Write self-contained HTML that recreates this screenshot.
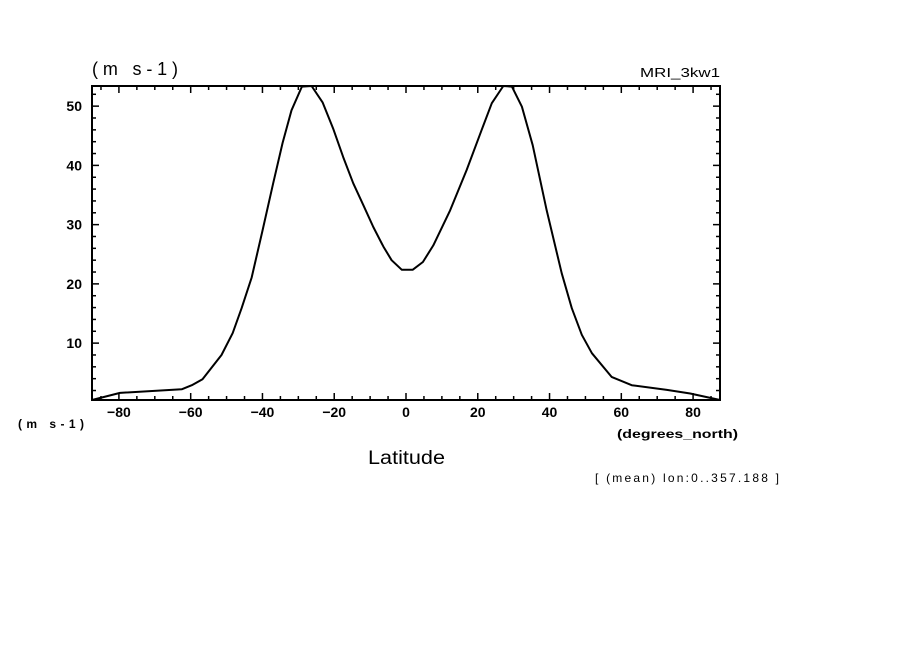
<!DOCTYPE html>
<html><head><meta charset="utf-8">
<style>
html,body{margin:0;padding:0;background:#fff;}
svg{display:block;font-family:"Liberation Sans",sans-serif;}
</style></head>
<body>
<svg id="chart" width="904" height="654" viewBox="0 0 904 654" xmlns="http://www.w3.org/2000/svg">
<text x="92" y="75" font-size="18" textLength="86" lengthAdjust="spacing">(m s-1)</text>
<text x="640" y="77" font-size="13" textLength="80" lengthAdjust="spacingAndGlyphs">MRI_3kw1</text>
<g id="axes"></g>
<text x="18" y="428" font-size="12" font-weight="bold" textLength="66" lengthAdjust="spacing">(m s-1)</text>
<text x="617" y="438" font-size="12" font-weight="bold" textLength="121" lengthAdjust="spacingAndGlyphs">(degrees_north)</text>
<text x="368" y="464" font-size="19" textLength="77" lengthAdjust="spacingAndGlyphs">Latitude</text>
<text x="595" y="482" font-size="12" textLength="184" lengthAdjust="spacing">[ (mean) lon:0..357.188 ]</text>
</svg>
<script>
const lats = [-87.5,-79.7,-62.5,-59.7,-56.7,-51.4,-48.3,-45.8,-43,-40,-37,-34.4,-31.9,-29,-26.3,-23.2,-20.3,-17.5,-14.7,-11.9,-9.1,-6.3,-4,-1.2,1.9,4.7,7.6,12.3,16.9,21.1,23.9,27.1,29.5,32.3,35.3,39.2,43.4,46.2,49,51.8,57.3,62.9,72.7,79.2,87.5];
const winds = [0.4,1.6,2.2,2.9,3.9,8,11.7,15.9,21.1,29,37,43.8,49.3,53.3,53.4,50.6,46.2,41.4,37,33.3,29.6,26.3,24,22.4,22.4,23.7,26.5,32.4,39.2,46,50.5,53.4,53.3,49.9,43.4,32.4,21.8,15.9,11.4,8.3,4.3,2.9,2.1,1.5,0.4];
const xTicks = [-80,-60,-40,-20,0,20,40,60,80];
const yTicks = [10,20,30,40,50];
const xMin=-87.5,xMax=87.5,yMin=0.4,yMax=53.4;
const L=92,R=720,T=86,B=400;
const sx=v=>L+(v-xMin)/(xMax-xMin)*(R-L);
const sy=v=>B-(v-yMin)/(yMax-yMin)*(B-T);
const NS="http://www.w3.org/2000/svg";
const g=document.getElementById('axes');
function mk(tag,attrs){const e=document.createElementNS(NS,tag);for(const k in attrs)e.setAttribute(k,attrs[k]);g.appendChild(e);return e;}
const frame=mk('rect',{x:L,y:T,width:R-L,height:B-T,fill:'none',stroke:'#000','stroke-width':2});


for(let v=-85;v<=85;v+=5){
  const x=sx(v),len=(v%20===0)?7:4;
  const t1=mk('line',{x1:x,y1:B,x2:x,y2:B-len,stroke:'#000','stroke-width':1.5});
  
  
  const t2=mk('line',{x1:x,y1:T,x2:x,y2:T+len,stroke:'#000','stroke-width':1.5});
  
  
}
for(let v=2;v<=52;v+=2){
  const y=sy(v),len=(v%10===0)?7:4;
  const t1=mk('line',{x1:L,y1:y,x2:L+len,y2:y,stroke:'#000','stroke-width':1.5});
  
  
  const t2=mk('line',{x1:R,y1:y,x2:R-len,y2:y,stroke:'#000','stroke-width':1.5});
  
  
}
xTicks.forEach(v=>{
  const t=mk('text',{x:sx(v),y:417,'font-size':14,'font-weight':'bold','text-anchor':'middle'});
  t.textContent=(v<0?'\u2212'+(-v):v);
  
  
});
yTicks.forEach(v=>{
  const t=mk('text',{x:82,y:sy(v)+5,'font-size':14,'font-weight':'bold','text-anchor':'end'});
  t.textContent=v;
  
  
});
const pts=lats.map((la,i)=>sx(la).toFixed(1)+','+sy(winds[i]).toFixed(1)).join(' ');
const line=mk('polyline',{points:pts,fill:'none',stroke:'#000','stroke-width':2,'stroke-linejoin':'round'});


</script>
</body></html>
